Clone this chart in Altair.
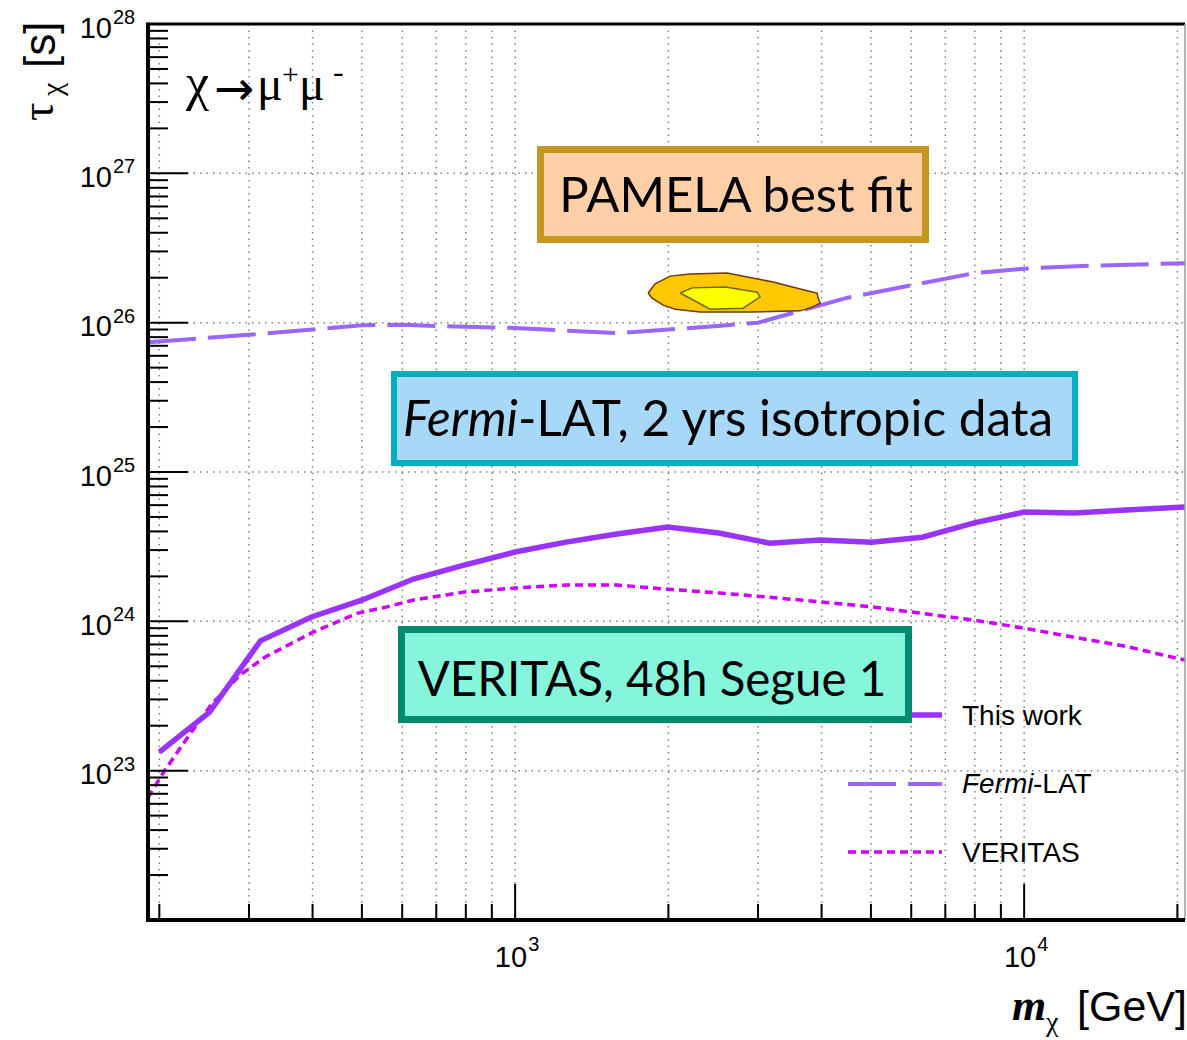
import altair as alt
import pandas as pd

# ---------------- data ----------------
mass_work = [200, 251, 316, 398, 501, 631, 794, 1000, 1259, 1585, 1995, 2512, 3162,
             3981, 5012, 6310, 7943, 10000, 12589, 15849, 20700]
tau_work = [1.33e23, 2.47e23, 7.4e23, 1.07e24, 1.39e24, 1.92e24, 2.38e24, 2.91e24,
            3.39e24, 3.84e24, 4.28e24, 3.90e24, 3.34e24, 3.50e24, 3.39e24, 3.66e24,
            4.55e24, 5.39e24, 5.31e24, 5.56e24, 5.82e24]

mass_fermi = [190, 300, 400, 500, 600, 700, 800, 1000, 1300, 1600, 2000, 2500, 3000,
              4500, 8000, 10000, 13000, 20700]
tau_fermi = [7.4e25, 8.3e25, 9.0e25, 9.6e25, 9.7e25, 9.5e25, 9.4e25, 9.2e25, 8.8e25,
             8.5e25, 9.0e25, 9.5e25, 1.0e26, 1.47e26, 2.15e26, 2.3e26, 2.4e26, 2.5e26]

mass_ver = [190, 204, 230, 254, 288, 323, 402, 489, 560, 631, 794, 1000, 1259, 1585,
            1995, 2512, 3162, 3981, 5012, 6310, 7943, 10000, 12589, 15849, 20700]
tau_ver = [6.6e22, 9.8e22, 1.77e23, 2.82e23, 4.36e23, 5.78e23, 8.5e23, 1.13e24,
           1.25e24, 1.39e24, 1.57e24, 1.67e24, 1.75e24, 1.75e24, 1.64e24, 1.55e24,
           1.45e24, 1.35e24, 1.25e24, 1.13e24, 1.02e24, 9.0e23, 7.8e23, 6.8e23, 5.5e23]

pamela_outer_m = [1825, 1884, 2016, 2207, 2609, 3213, 3713, 3920, 3938, 3974, 3832,
                  3630, 2896, 2309, 2063, 1953, 1858, 1825]
pamela_outer_t = [1.58e26, 1.82e26, 2.05e26, 2.12e26, 2.15e26, 1.87e26, 1.65e26,
                  1.58e26, 1.46e26, 1.35e26, 1.27e26, 1.20e26, 1.18e26, 1.18e26,
                  1.23e26, 1.31e26, 1.46e26, 1.58e26]
pamela_inner_m = [2110, 2227, 2586, 2988, 3029, 2805, 2416, 2110]
pamela_inner_t = [1.58e26, 1.71e26, 1.73e26, 1.60e26, 1.49e26, 1.25e26, 1.23e26, 1.58e26]

x_grid = [200, 300, 400, 500, 600, 700, 800, 900, 1000, 2000, 3000, 4000, 5000,
          6000, 7000, 8000, 9000, 10000, 20000]
x_major = [1000, 10000]
x_minor = [200, 300, 400, 500, 600, 700, 800, 900, 2000, 3000, 4000, 5000, 6000,
           7000, 8000, 9000, 20000]
y_grid = [1e23, 1e24, 1e25, 1e26, 1e27]
y_major = [1e22, 1e23, 1e24, 1e25, 1e26, 1e27, 1e28]
y_minor = [k * 10.0 ** n for n in range(22, 28) for k in range(2, 10)]
y_label_vals = [1e23, 1e24, 1e25, 1e26, 1e27, 1e28]
y_label_exp = ["23", "24", "25", "26", "27", "28"]
x_label_vals = [1000, 10000]
x_label_exp = ["3", "4"]

# ---------------- layout ----------------
W, H = 1037, 896
OX, OY = 148, 24

xs = alt.Scale(type="log", domain=[190, 20700], nice=False)
ys = alt.Scale(type="log", domain=[1e22, 1e28], nice=False)
one = pd.DataFrame({"a": [0]})


def X(f="m"):
    return alt.X(f"{f}:Q", scale=xs, axis=None)


def Y(f="t"):
    return alt.Y(f"{f}:Q", scale=ys, axis=None)


def T(text, x, y, size, font="Liberation Sans", align="left", angle=0,
      style="normal", weight="normal"):
    return alt.Chart(one).mark_text(
        text=text, align=align, baseline="alphabetic", fontSize=size, font=font,
        fontStyle=style, fontWeight=weight, angle=angle, color="black"
    ).encode(x=alt.value(x - OX), y=alt.value(y - OY))


def hline(x1, x2, y, color, width, dash=None):
    kw = dict(color=color, strokeWidth=width)
    if dash:
        kw["strokeDash"] = dash
    return alt.Chart(one).mark_rule(**kw).encode(
        x=alt.value(x1 - OX), x2=alt.value(x2 - OX), y=alt.value(y - OY))


def box(x1, x2, y1, y2, fill, stroke, sw):
    return alt.Chart(one).mark_rect(fill=fill, stroke=stroke, strokeWidth=sw).encode(
        x=alt.value(x1 - OX), x2=alt.value(x2 - OX),
        y=alt.value(y1 - OY), y2=alt.value(y2 - OY))


def curve(m, t, color, width, dash=None):
    df = pd.DataFrame({"m": m, "t": t, "i": list(range(len(m)))})
    kw = dict(color=color, strokeWidth=width, clip=True)
    if dash:
        kw["strokeDash"] = dash
    return alt.Chart(df).mark_line(**kw).encode(x=X(), y=Y(), order="i:Q")


def contour(m, t, fill, stroke):
    df = pd.DataFrame({"m": m, "t": t, "i": list(range(len(m)))})
    return alt.Chart(df).mark_line(fill=fill, stroke=stroke, strokeWidth=1.5).encode(
        x=X(), y=Y(), order="i:Q")


GRID = dict(color="#808080", strokeWidth=1.5, strokeDash=[1.5, 5])

vgrid = alt.Chart(pd.DataFrame({"m": x_grid})).mark_rule(**GRID).encode(
    x=X(), y=alt.value(0), y2=alt.value(H))
hgrid = alt.Chart(pd.DataFrame({"t": y_grid})).mark_rule(**GRID).encode(
    y=Y(), x=alt.value(0), x2=alt.value(W))

xmaj = alt.Chart(pd.DataFrame({"m": x_major})).mark_rule(color="black", strokeWidth=2).encode(
    x=X(), y=alt.value(H), y2=alt.value(H - 36))
xmin = alt.Chart(pd.DataFrame({"m": x_minor})).mark_rule(color="black", strokeWidth=2).encode(
    x=X(), y=alt.value(H), y2=alt.value(H - 16))
ymaj = alt.Chart(pd.DataFrame({"t": y_major})).mark_rule(color="black", strokeWidth=2).encode(
    y=Y(), x=alt.value(0), x2=alt.value(40))
ymin = alt.Chart(pd.DataFrame({"t": y_minor})).mark_rule(color="black", strokeWidth=2).encode(
    y=Y(), x=alt.value(0), x2=alt.value(20))

frame = [
    alt.Chart(one).mark_rule(color="black", strokeWidth=3).encode(
        x=alt.value(0), x2=alt.value(W), y=alt.value(0)),
    alt.Chart(one).mark_rule(color="#9a9a9a", strokeWidth=1.5).encode(
        x=alt.value(W), y=alt.value(0), y2=alt.value(H)),
    alt.Chart(one).mark_rule(color="black", strokeWidth=4).encode(
        x=alt.value(0), y=alt.value(-1.5), y2=alt.value(H + 2)),
    alt.Chart(one).mark_rule(color="black", strokeWidth=4).encode(
        x=alt.value(-2), x2=alt.value(W), y=alt.value(H)),
]

ylab_df = pd.DataFrame({"t": y_label_vals, "e": y_label_exp})
ylab10 = alt.Chart(ylab_df).mark_text(
    text="10", align="right", baseline="middle", fontSize=29, font="Liberation Sans",
    dy=4.5, color="black").encode(y=Y(), x=alt.value(112 - OX))
ylabexp = alt.Chart(ylab_df).mark_text(
    align="left", baseline="middle", fontSize=20, font="Liberation Sans",
    dy=-6, color="black").encode(y=Y(), x=alt.value(113 - OX), text="e:N")

xlab_df = pd.DataFrame({"m": x_label_vals, "e": x_label_exp})
xlab10 = alt.Chart(xlab_df).mark_text(
    text="10", align="right", baseline="middle", fontSize=29, font="Liberation Sans",
    dx=12, color="black").encode(x=X(), y=alt.value(958 - OY))
xlabexp = alt.Chart(xlab_df).mark_text(
    align="left", baseline="middle", fontSize=20, font="Liberation Sans",
    dx=13, color="black").encode(x=X(), y=alt.value(945 - OY), text="e:N")

C_WORK, C_FERMI, C_VER = "#9933ff", "#9966ff", "#cc00ff"

layers = [
    vgrid, hgrid,
    curve(mass_fermi, tau_fermi, C_FERMI, 4, [48, 12]),
    curve(mass_ver, tau_ver, C_VER, 3.5, [8, 5]),
    curve(mass_work, tau_work, C_WORK, 5.5),
    contour(pamela_outer_m, pamela_outer_t, "#ffc800", "#6b3a00"),
    contour(pamela_inner_m, pamela_inner_t, "#ffff00", "#6b6b00"),
    xmaj, xmin, ymaj, ymin, *frame,
    ylab10, ylabexp, xlab10, xlabexp,
    # legend
    hline(850, 942, 715, C_WORK, 5.5),
    hline(848, 942, 784, C_FERMI, 4, [48, 12]),
    hline(848, 942, 852, C_VER, 3.5, [8, 5]),
    T("This work", 962, 725, 28),
    T("Fermi", 962, 793, 28, style="italic"),
    T("-LAT", 1033, 793, 28),
    T("VERITAS", 962, 862, 28),
    # boxes
    box(540.5, 925.5, 149.5, 239.5, "#ffcfa8", "#c4961f", 7),
    box(394, 1075, 374, 463, "#a8d8f8", "#00b0c0", 6),
    box(401.5, 908.5, 629.5, 719.5, "#85f5dc", "#008b6e", 7),
    T("PAMELA best fit", 736, 212, 49, font="Lato", align="center"),
    T("Fermi", 518, 436, 49.5, font="Lato", align="right", style="italic"),
    T("-LAT, 2 yrs isotropic data", 518, 436, 49.5, font="Lato"),
    T("VERITAS, 48h Segue 1", 652, 696, 47.5, font="Lato", align="center"),
    # reaction label
    T("\u03c7", 186, 100, 52, font="Liberation Serif"),
    T("\u2192", 214, 105, 48, font="DejaVu Sans"),
    T("\u03bc", 257, 100, 48, font="Liberation Serif"),
    T("+", 282, 84, 30, font="Liberation Serif"),
    T("\u03bc", 299, 100, 48, font="Liberation Serif"),
    T("-", 333, 82, 32, font="Liberation Serif"),
    # axis titles
    T("\u03c4", 53, 121, 46, font="Liberation Serif", angle=270),
    T("\u03c7", 62, 96, 30, font="Liberation Serif", angle=270),
    T("[s]", 55, 68, 44, angle=270),
    T("m", 1012, 1020, 44, font="Liberation Serif", style="italic", weight="bold"),
    T("\u03c7", 1046, 1031, 28, font="Liberation Serif"),
    T("[GeV]", 1187, 1021, 43, align="right"),
]

chart = alt.layer(*layers).properties(
    width=W, height=H,
    padding={"left": OX, "top": OY, "right": 2, "bottom": 120},
    autosize=alt.AutoSizeParams(type="none"),
    background="white",
).configure_view(stroke="transparent")

chart.save("out.html", embed_options={"renderer": "svg", "actions": False})
